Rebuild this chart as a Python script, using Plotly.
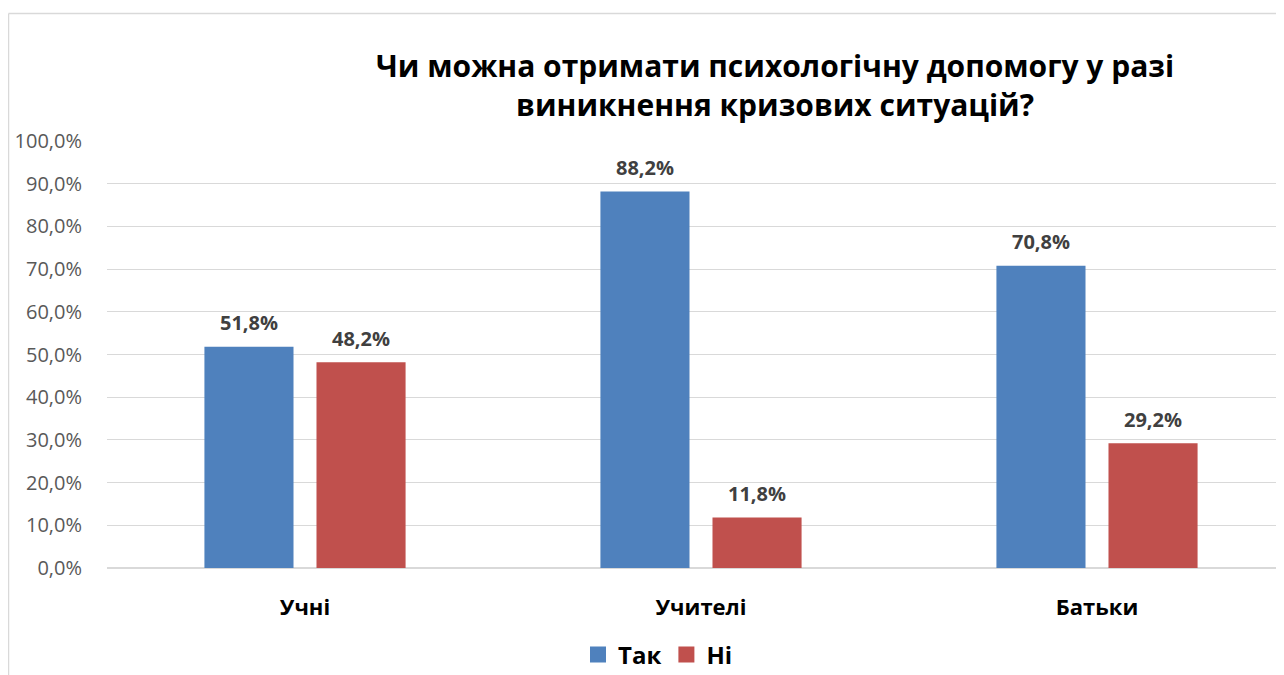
import plotly.graph_objects as go

categories = ["Учні", "Учителі", "Батьки"]
yes_values = [51.8, 88.2, 70.8]
no_values = [48.2, 11.8, 29.2]
series_names = ["Так", "Ні"]
title_lines = ["Чи можна отримати психологічну допомогу у разі", "виникнення кризових ситуацій?"]
tick_vals = [0, 10, 20, 30, 40, 50, 60, 70, 80, 90, 100]
tick_text = [f"{v:.1f}%".replace(".", ",") for v in tick_vals]

BLUE = "#4F81BD"
RED = "#C0504D"
GRID = "#D9D9D9"
FONT = "Open Sans, Arial, sans-serif"

# the page body adds an 8px margin, so work in page pixels and shift
OFF = 8
W, H = 1284, 675
L = 107 - OFF
T = 141 - OFF
B = H - (568 - OFF)
plot_w = W - L
plot_h = H - T - B
CAT_W = 396


def px_x(x):
    return (x - OFF - L) / plot_w


def px_y(y):
    return (H - B - (y - OFF)) / plot_h


def label(v):
    return f"{v:.1f}%".replace(".", ",")


fig = go.Figure()
annotations = []
for name, vals, color, shift in [(series_names[0], yes_values, BLUE, -56),
                                 (series_names[1], no_values, RED, 56)]:
    fig.add_trace(go.Bar(
        x=categories, y=vals, name=name,
        marker=dict(color=color, line=dict(width=0)),
        showlegend=False,
    ))
    # legend-only marker for a bigger square swatch
    fig.add_trace(go.Scatter(
        x=[None], y=[None], mode="markers", name=name,
        marker=dict(symbol="square", size=18, color=color),
    ))
    for c, v in zip(categories, vals):
        annotations.append(dict(
            x=c, y=v, text=label(v), showarrow=False,
            xshift=shift, yshift=24, yanchor="middle",
            font=dict(family=FONT, size=20, color="#404040", weight="bold"),
        ))

# chart title, centred over the right part of the plot like the original
annotations.append(dict(
    text="<br>".join(title_lines), showarrow=False,
    xref="paper", yref="paper", x=px_x(775), y=px_y(85.5),
    xanchor="center", yanchor="middle", align="center",
    font=dict(family=FONT, size=30, color="black", weight="bold"),
))

fig.update_layout(
    width=W, height=H,
    paper_bgcolor="white", plot_bgcolor="white",
    margin=dict(l=L, r=0, t=T, b=B),
    barmode="group", bargap=0.434, bargroupgap=0.205,
    font=dict(family=FONT, color="#595959"),
    annotations=annotations,
    xaxis=dict(
        range=[-0.5, 2.5 - 3 / CAT_W],
        showgrid=False, showline=False, ticks="",
        tickfont=dict(family=FONT, size=22, color="black", weight="bold"),
        ticklabelstandoff=24,
    ),
    yaxis=dict(
        range=[0, 100], tickvals=tick_vals, ticktext=tick_text,
        showgrid=True, gridcolor=GRID, gridwidth=1,
        zeroline=True, zerolinecolor=GRID, zerolinewidth=1.5,
        showline=False, ticks="",
        tickfont=dict(family=FONT, size=20, color="#595959"),
        ticklabelstandoff=24,
    ),
    legend=dict(
        orientation="h", x=px_x(658), xanchor="center",
        y=px_y(655), yanchor="middle",
        font=dict(family=FONT, size=24, color="black", weight="bold"),
        itemwidth=30, bgcolor="rgba(0,0,0,0)",
    ),
    shapes=[
        dict(type="line", xref="paper", yref="paper",
             x0=px_x(8.5), x1=px_x(8.5), y0=px_y(13.5), y1=px_y(700),
             line=dict(color=GRID, width=1.5)),
        dict(type="line", xref="paper", yref="paper",
             x0=px_x(8.5), x1=px_x(1300), y0=px_y(13.5), y1=px_y(13.5),
             line=dict(color=GRID, width=1.5)),
    ],
)

fig.write_html("out.html")
